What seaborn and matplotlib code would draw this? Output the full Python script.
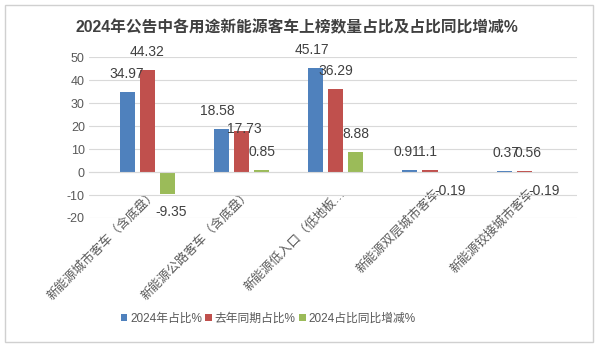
import matplotlib
matplotlib.use("Agg")
import matplotlib.pyplot as plt
import matplotlib.transforms as mtransforms
from matplotlib.patches import Rectangle, Patch
import seaborn as sns
import pandas as pd

categories = ["新能源城市客车（含底盘）", "新能源公路客车（含底盘）", "新能源低入口（低地板…",
              "新能源双层城市客车", "新能源铰接城市客车"]
series_names = ["2024年占比%", "去年同期占比%", "2024占比同比增减%"]
share_2024 = [34.97, 18.58, 45.17, 0.91, 0.37]
share_last = [44.32, 17.73, 36.29, 1.1, 0.56]
share_change = [-9.35, 0.85, 8.88, -0.19, -0.19]
y_ticks = [-20, -10, 0, 10, 20, 30, 40, 50]
title = "2024年公告中各用途新能源客车上榜数量占比及占比同比增减%"

colors = ["#4F81BD", "#C0504D", "#9BBB59"]

sns.set_style("white")
plt.rcParams["font.family"] = ["Liberation Sans", "Noto Sans CJK SC", "DejaVu Sans"]
plt.rcParams["axes.unicode_minus"] = False

values = [share_2024, share_last, share_change]
rows = []
for s, vals in zip(series_names, values):
    for c, v in zip(categories, vals):
        rows.append({"cat": c, "series": s, "val": v})
df = pd.DataFrame(rows)

fig = plt.figure(figsize=(6.0, 3.46), dpi=100)
ax = fig.add_axes([89 / 600, 1 - 218 / 346, (577 - 89) / 600, (218 - 57.3) / 346])

sns.barplot(data=df, x="cat", y="val", hue="series", order=categories,
            hue_order=series_names, palette=colors, width=0.64, gap=0.25,
            linewidth=0, saturation=1, ax=ax, legend=False, errorbar=None)

ax.set_xlim(-0.618, 4.56)
ax.set_ylim(-20, 50)
ax.set_yticks(y_ticks)
ax.set_xlabel("")
ax.set_ylabel("")
ax.set_axisbelow(True)
ax.yaxis.grid(True, color="#d9d9d9", lw=0.8)
ax.xaxis.grid(False)
for sp in ["left", "right", "top"]:
    ax.spines[sp].set_visible(False)
ax.spines["bottom"].set_position(("data", 0))
ax.spines["bottom"].set_color("#d9d9d9")
ax.spines["bottom"].set_linewidth(0.8)
ax.tick_params(axis="y", length=0, pad=3, labelsize=9, labelcolor="#595959")
ax.tick_params(axis="x", length=0, pad=14, labelsize=9, labelcolor="#595959")

shift = mtransforms.ScaledTranslation(8 / 100, 0, fig.dpi_scale_trans)
for lab in ax.get_xticklabels():
    lab.set_rotation(45)
    lab.set_ha("right")
    lab.set_va("center")
    lab.set_rotation_mode("anchor")
    lab.set_transform(lab.get_transform() + shift)

# data labels
special = {(1, 1): (3, -2), (0, 2): (-4, 0), (0, 1): (-4, 0), (1, 4): (4, 0),
           (0, 3): (-3, 0), (1, 3): (-2, 0), (2, 0): (4, 0), (0, 4): (2, 0)}
for si, cont in enumerate(ax.containers):
    for ci, bar in enumerate(cont):
        v = values[si][ci]
        x = bar.get_x() + bar.get_width() / 2
        dx, dy = 0, (18 if v >= 0 else -18)
        if (si, ci) in special:
            sdx, sdy = special[(si, ci)]
            dx = sdx
            if sdy != 0:
                dy = -sdy
        ax.annotate(str(v), xy=(x, v), xytext=(dx * 0.72, dy * 0.72),
                    textcoords="offset points", ha="center", va="center",
                    fontsize=10, color="#404040")

handles = [Patch(facecolor=c, edgecolor="none") for c in colors]
fig.legend(handles, series_names, loc="center", bbox_to_anchor=(0.447, 1 - 319 / 346),
           ncol=3, frameon=False, fontsize=8.5, handlelength=0.55, handleheight=0.55,
           handletextpad=0.25, columnspacing=0.3, labelcolor="#595959")

fig.text(0.494, 1 - 28 / 346, title, ha="center", va="center", fontsize=11.3,
         fontweight="bold", color="#404040")

fig.patches.append(Rectangle((5 / 600, 1 - 342 / 346), 588 / 600, 337 / 346,
                             transform=fig.transFigure, fill=False,
                             edgecolor="#d0d0d0", lw=1))

fig.savefig("out.png", dpi=100)
